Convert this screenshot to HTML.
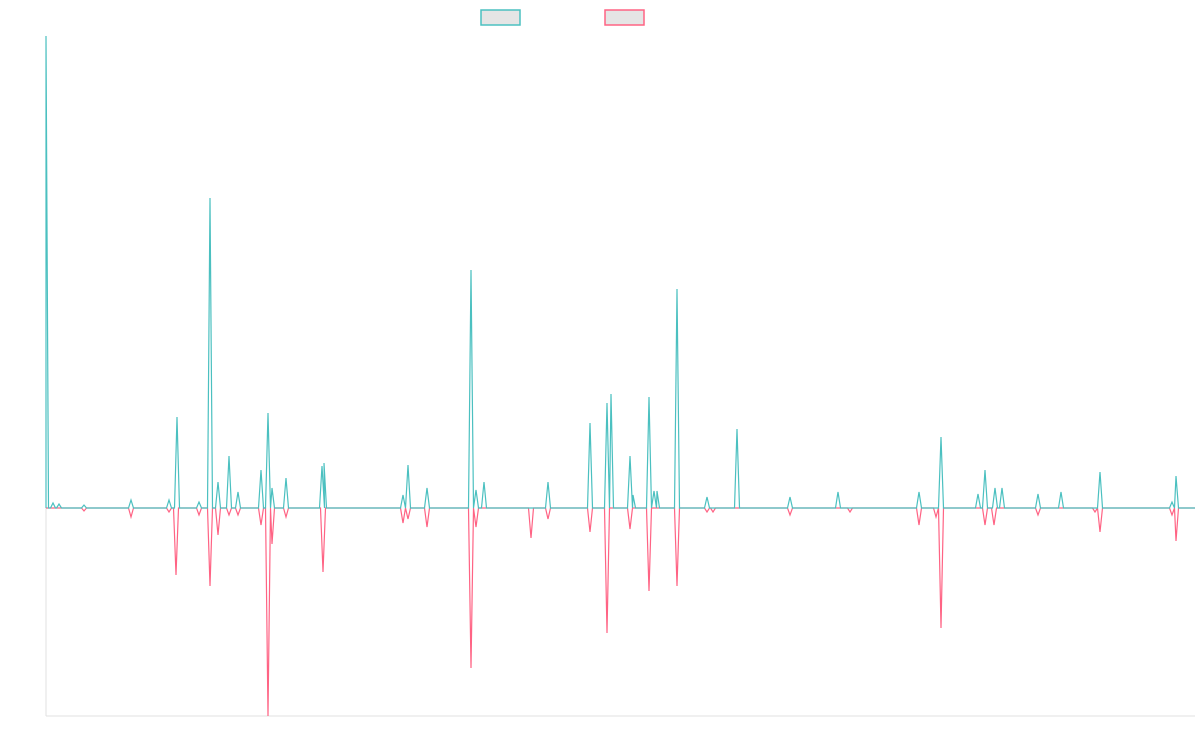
<!DOCTYPE html>
<html><head><meta charset="utf-8"><style>
html,body{margin:0;padding:0;background:#fff;}
svg{display:block;}
</style></head><body>
<svg id="c" width="1200" height="750" viewBox="0 0 1200 750">
<rect x="481" y="10" width="39" height="15" fill="#e5e5e5" stroke="#4bc0c0" stroke-width="1.5"/>
<rect x="605" y="10" width="39" height="15" fill="#e5e5e5" stroke="#ff6384" stroke-width="1.5"/>
<line x1="46" y1="36" x2="46" y2="716" stroke="#e0e0e0" stroke-width="1"/>
<line x1="46" y1="716" x2="1195" y2="716" stroke="#e0e0e0" stroke-width="1"/>
<path id="pk" fill="none" stroke="#ff6384" stroke-width="1.2"/>
<path id="tl" fill="none" stroke="#4bc0c0" stroke-width="1.2"/>
</svg>
<script>
var B=508;
var T=[[46,36],[53,503],[59,504],[84,505],[131,500],[169,500],[177,417],[199,502],[210,198],[218,482],[229,456],[238,492],[261,470],[268,413],[272,488],[286,478],[322,466],[324,463],[403,495],[408,465],[427,488],[471,270],[476,490],[484,482],[548,482],[590,423],[607,403],[611,394],[630,456],[633,495],[649,397],[654,491],[657,491],[677,289],[707,497],[737,429],[790,497],[838,492],[919,492],[941,437],[978,494],[985,470],[995,488],[1002,488],[1038,494],[1061,492],[1100,472],[1172,502],[1176,476]];
var P=[[84,511],[131,517],[169,512],[176,575],[199,515],[210,586],[218,535],[229,515],[238,515],[261,525],[268,716],[272,544],[286,517],[323,572],[403,523],[408,519],[427,527],[471,668],[476,527],[531,538],[548,519],[590,532],[607,633],[630,529],[649,591],[677,586],[707,512],[713,512],[790,515],[850,512],[919,525],[936,517],[941,628],[985,525],[994,525],[1038,515],[1095,512],[1100,532],[1172,515],[1176,541]];
function mk(a){var d="M46 "+B;var lx=46;a.forEach(function(p){var x0=Math.max(lx,p[0]-2.5);d+=" L"+x0+" "+B+" L"+p[0]+" "+p[1]+" L"+(p[0]+2.5)+" "+B;lx=p[0]+2.5;});d+=" L1195 "+B;return d;}
document.getElementById("pk").setAttribute("d",mk(P));
document.getElementById("tl").setAttribute("d",mk(T));
</script>
</body></html>
